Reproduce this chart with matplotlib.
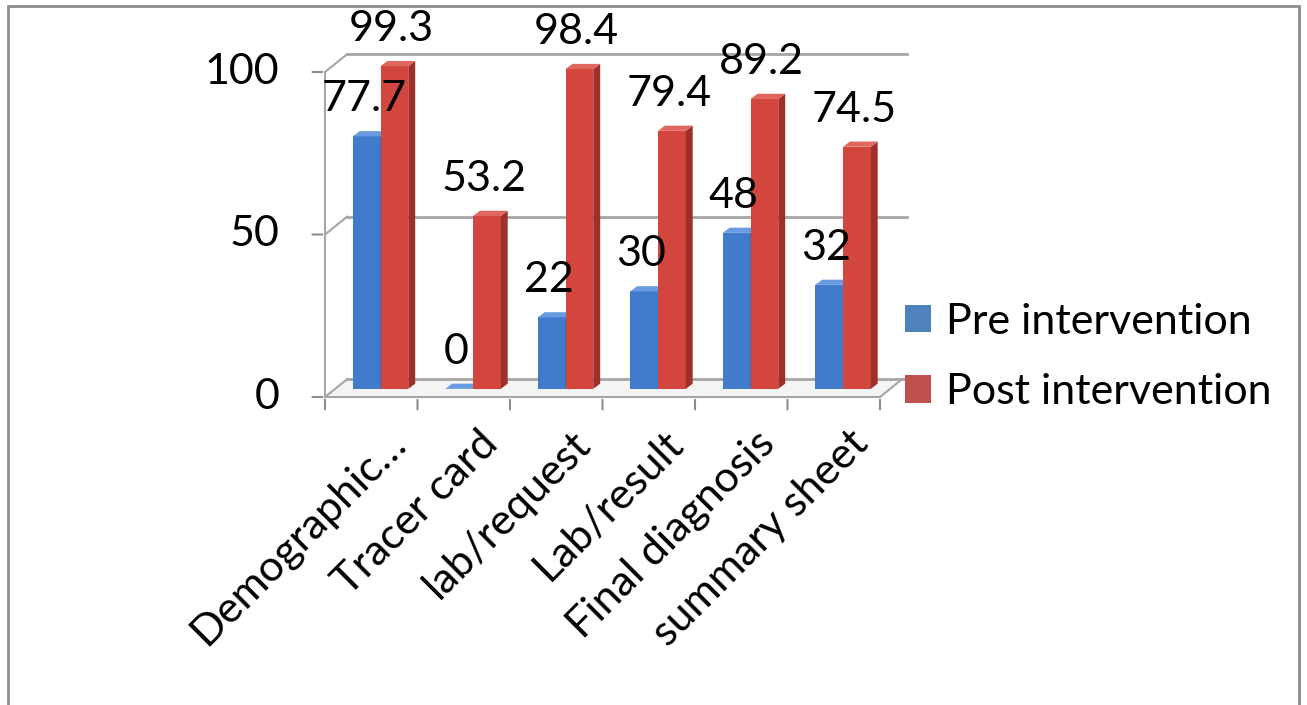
import matplotlib.pyplot as plt
from matplotlib.patches import Polygon, Rectangle, Patch

plt.rcParams['font.family'] = ['Lato', 'DejaVu Sans']

categories = ["Demographic\u2026", "Tracer card", "lab/request", "Lab/result",
              "Final diagnosis", "summary sheet"]
pre = [77.7, 0, 22, 30, 48, 32]
post = [99.3, 53.2, 98.4, 79.4, 89.2, 74.5]
series_names = ["Pre intervention", "Post intervention"]
y_ticks = [0, 50, 100]

# colours: front, side, top
blue = ("#417bcb", "#2d5a98", "#6a9be0")
red = ("#d3463d", "#9e2f29", "#e0675e")
legend_colors = ["#4f81bd", "#c0504d"]

FS = 31
DX, DY = 0.24, 5.5      # depth of the whole plot box (data units)
SX, SY = 0.10, 2.5      # bars sit half-way back
BX, BY = 0.075, 1.6     # depth of a single bar
W = 0.30


def draw_bar(ax, x0, h, cols):
    x0 += SX
    y0 = SY
    front, side, top = cols
    ax.add_patch(Rectangle((x0, y0), W, h, facecolor=front, edgecolor="none",
                           clip_on=False, zorder=3))
    ax.add_patch(Polygon([(x0 + W, y0), (x0 + W + BX, y0 + BY),
                          (x0 + W + BX, y0 + h + BY), (x0 + W, y0 + h)],
                         facecolor=side, edgecolor="none", clip_on=False, zorder=3))
    ax.add_patch(Polygon([(x0, y0 + h), (x0 + W, y0 + h),
                          (x0 + W + BX, y0 + h + BY), (x0 + BX, y0 + h + BY)],
                         facecolor=top, edgecolor="none", clip_on=False, zorder=3))


fig = plt.figure(figsize=(13.07, 7.05), dpi=100)
ax = fig.add_axes([325 / 1307, 308 / 705, 555 / 1307, 325 / 705])
ax.set_xlim(0, len(categories))
ax.set_ylim(0, 100)
ax.axis("off")

# outer chart border
fig.patches.append(Rectangle((8 / 1307, -0.05), 1291 / 1307, 1.05 - 6 / 705,
                             transform=fig.transFigure, fill=False,
                             edgecolor="#8c8c8c", linewidth=2))

grid_col = "#a6a6a6"
n = len(categories)
# back wall gridlines and the slanted side lines
for v in y_ticks:
    ax.plot([DX, n + DX + 0.05], [v + DY, v + DY], color=grid_col, lw=2, clip_on=False, zorder=1)
    ax.plot([0, DX], [v, v + DY], color=grid_col, lw=1.5, clip_on=False, zorder=1)
# floor
ax.plot([0, n], [0, 0], color=grid_col, lw=1.5, clip_on=False, zorder=1)
ax.plot([n, n + DX], [0, DY], color=grid_col, lw=1.5, clip_on=False, zorder=1)
ax.add_patch(Polygon([(0, 0), (n, 0), (n + DX, DY), (DX, DY)], facecolor="#f4f4f4",
                     edgecolor="none", clip_on=False, zorder=0))
# value axis
ax.plot([0, 0], [0, 100], color=grid_col, lw=1.5, clip_on=False, zorder=1)
for v in y_ticks:
    ax.annotate("", xy=(0, v), xytext=(-11, 0), textcoords="offset points",
                arrowprops=dict(arrowstyle="-", color="#8c8c8c", lw=1.5),
                annotation_clip=False)
    ax.annotate(str(v), xy=(0, v), xytext=(-33, 0), textcoords="offset points",
                ha="right", va="center", fontsize=FS, annotation_clip=False)
# category axis ticks
for i in range(n + 1):
    ax.annotate("", xy=(i, 0), xytext=(0, -11), textcoords="offset points",
                arrowprops=dict(arrowstyle="-", color="#8c8c8c", lw=1.5),
                annotation_clip=False)

for i, name in enumerate(categories):
    ax.annotate(name, xy=(i + 0.5, 0), xytext=(20, -29), textcoords="offset points",
                ha="right", va="center", rotation=45, rotation_mode="anchor",
                fontsize=FS, annotation_clip=False)

for i in range(n):
    left = i + 0.5 - W
    draw_bar(ax, left, pre[i], blue)
    draw_bar(ax, left + W, post[i], red)
    for x0, val in ((left, pre[i]), (left + W, post[i])):
        ax.annotate(f"{val:g}", xy=(x0 + SX + W / 2, val + SY), xytext=(-2, 13),
                    textcoords="offset points", ha="center", va="bottom",
                    fontsize=FS, zorder=5, annotation_clip=False)

handles = [Patch(facecolor=c, edgecolor="none") for c in legend_colors]
fig.legend(handles, series_names, loc="center left",
           bbox_to_anchor=(905 / 1307, 1 - 357 / 705), frameon=False,
           fontsize=FS, handlelength=0.6, handleheight=0.6,
           handletextpad=0.35, labelspacing=0.75, borderpad=0, borderaxespad=0)

fig.savefig("out.png", dpi=100)
